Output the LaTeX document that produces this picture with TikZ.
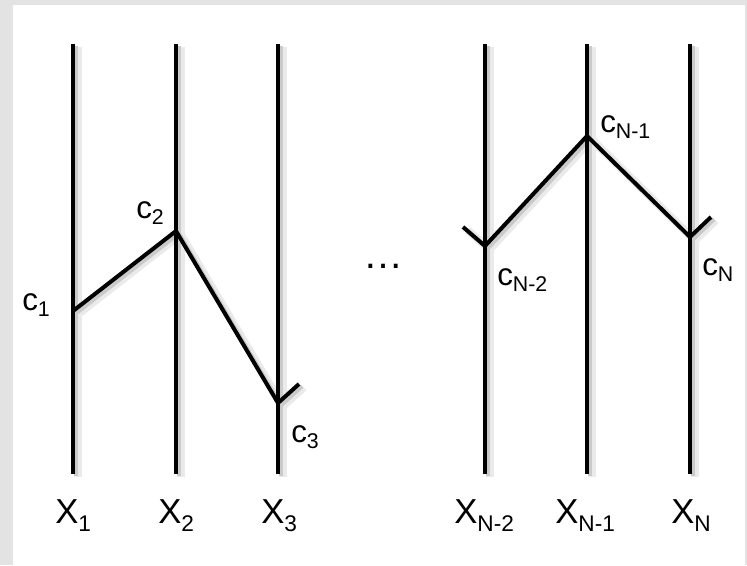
\documentclass[tikz,border=0pt]{standalone}
\usepackage{fontspec}
\setmainfont{Liberation Sans}
\usetikzlibrary{calc}
\definecolor{frame}{HTML}{E3E3E3}
\definecolor{shadeA}{HTML}{EAEAEA}
\definecolor{shadeB}{HTML}{CACACA}
\newcommand{\csub}[2]{{\fontsize{23.5}{23.5}\selectfont #1}\raisebox{-5pt}{\fontsize{16}{16}\selectfont #2}}
\newcommand{\xsub}[2]{{\fontsize{26}{26}\selectfont #1}\raisebox{-6.5pt}{\fontsize{17}{17}\selectfont #2}}
\tikzset{
  shadowA/.style={draw=shadeA,line width=6pt,transform canvas={xshift=3.5pt,yshift=-2.5pt}},
  shadowB/.style={draw=shadeB,line width=3pt,transform canvas={xshift=2.2pt,yshift=-1.8pt}},
  ink/.style={draw=black,line width=3pt},
  clabel/.style={anchor=base west,inner sep=0pt,text=black},
  xlabel/.style={anchor=base west,inner sep=0pt,text=black}
}

\begin{document}
\begin{tikzpicture}[x=.75pt,y=-.75pt]
  % frame
  \fill[frame] (0,0) rectangle (747,565);
  \fill[white] (13,5) rectangle (745,565);
  \useasboundingbox (0,0) rectangle (747,565);
  % wire ends and cut points
  \foreach \n/\x in {1/73,2/176,3/278,4/485,5/587,6/690}{
    \coordinate (t\n) at (\x,44);
    \coordinate (b\n) at (\x,474);
  }
  \coordinate (c1) at (73,311);
  \coordinate (c2) at (176,231);
  \coordinate (c3) at (278,403);
  \coordinate (k3) at (299,384);
  \coordinate (kN2) at (463,227);
  \coordinate (cN2) at (485,246);
  \coordinate (cN1) at (587,136);
  \coordinate (cN) at (690,237);
  \coordinate (kN) at (711,217);
  % shadows first, then the black lines
  \foreach \sty in {shadowA,shadowB,ink}{
    \foreach \n in {1,...,6}
      \draw[\sty] (t\n)--(b\n);
    \draw[\sty] (c1)--(c2)--(c3)--(k3);
    \draw[\sty] (kN2)--(cN2)--(cN1)--(cN)--(kN);
  }
  % labels
  \node[clabel] (lc1) at (22,310) {\csub{c}{1}};
  \node[clabel] (lc2) at (136,218) {\csub{c}{2}};
  \node[clabel] (lc3) at (291,442) {\csub{c}{3}};
  \node[clabel] (lcN2) at (497,285) {\csub{c}{N-2}};
  \node[clabel] (lcN1) at (600,132) {\csub{c}{N-1}};
  \node[clabel] (lcN) at (702,275) {\csub{c}{N}};
  \node[anchor=base,inner sep=0pt,font=\fontsize{30}{30}\selectfont] (dots) at (383.5,268) {…};
  \node[xlabel] (x1) at (55,523) {\xsub{X}{1}};
  \node[xlabel] (x2) at (158,523) {\xsub{X}{2}};
  \node[xlabel] (x3) at (261,523) {\xsub{X}{3}};
  \node[xlabel] (xN2) at (454,523) {\xsub{X}{N-2}};
  \node[xlabel] (xN1) at (555,523) {\xsub{X}{N-1}};
  \node[xlabel] (xN) at (671,523) {\xsub{X}{N}};
\end{tikzpicture}
\end{document}
